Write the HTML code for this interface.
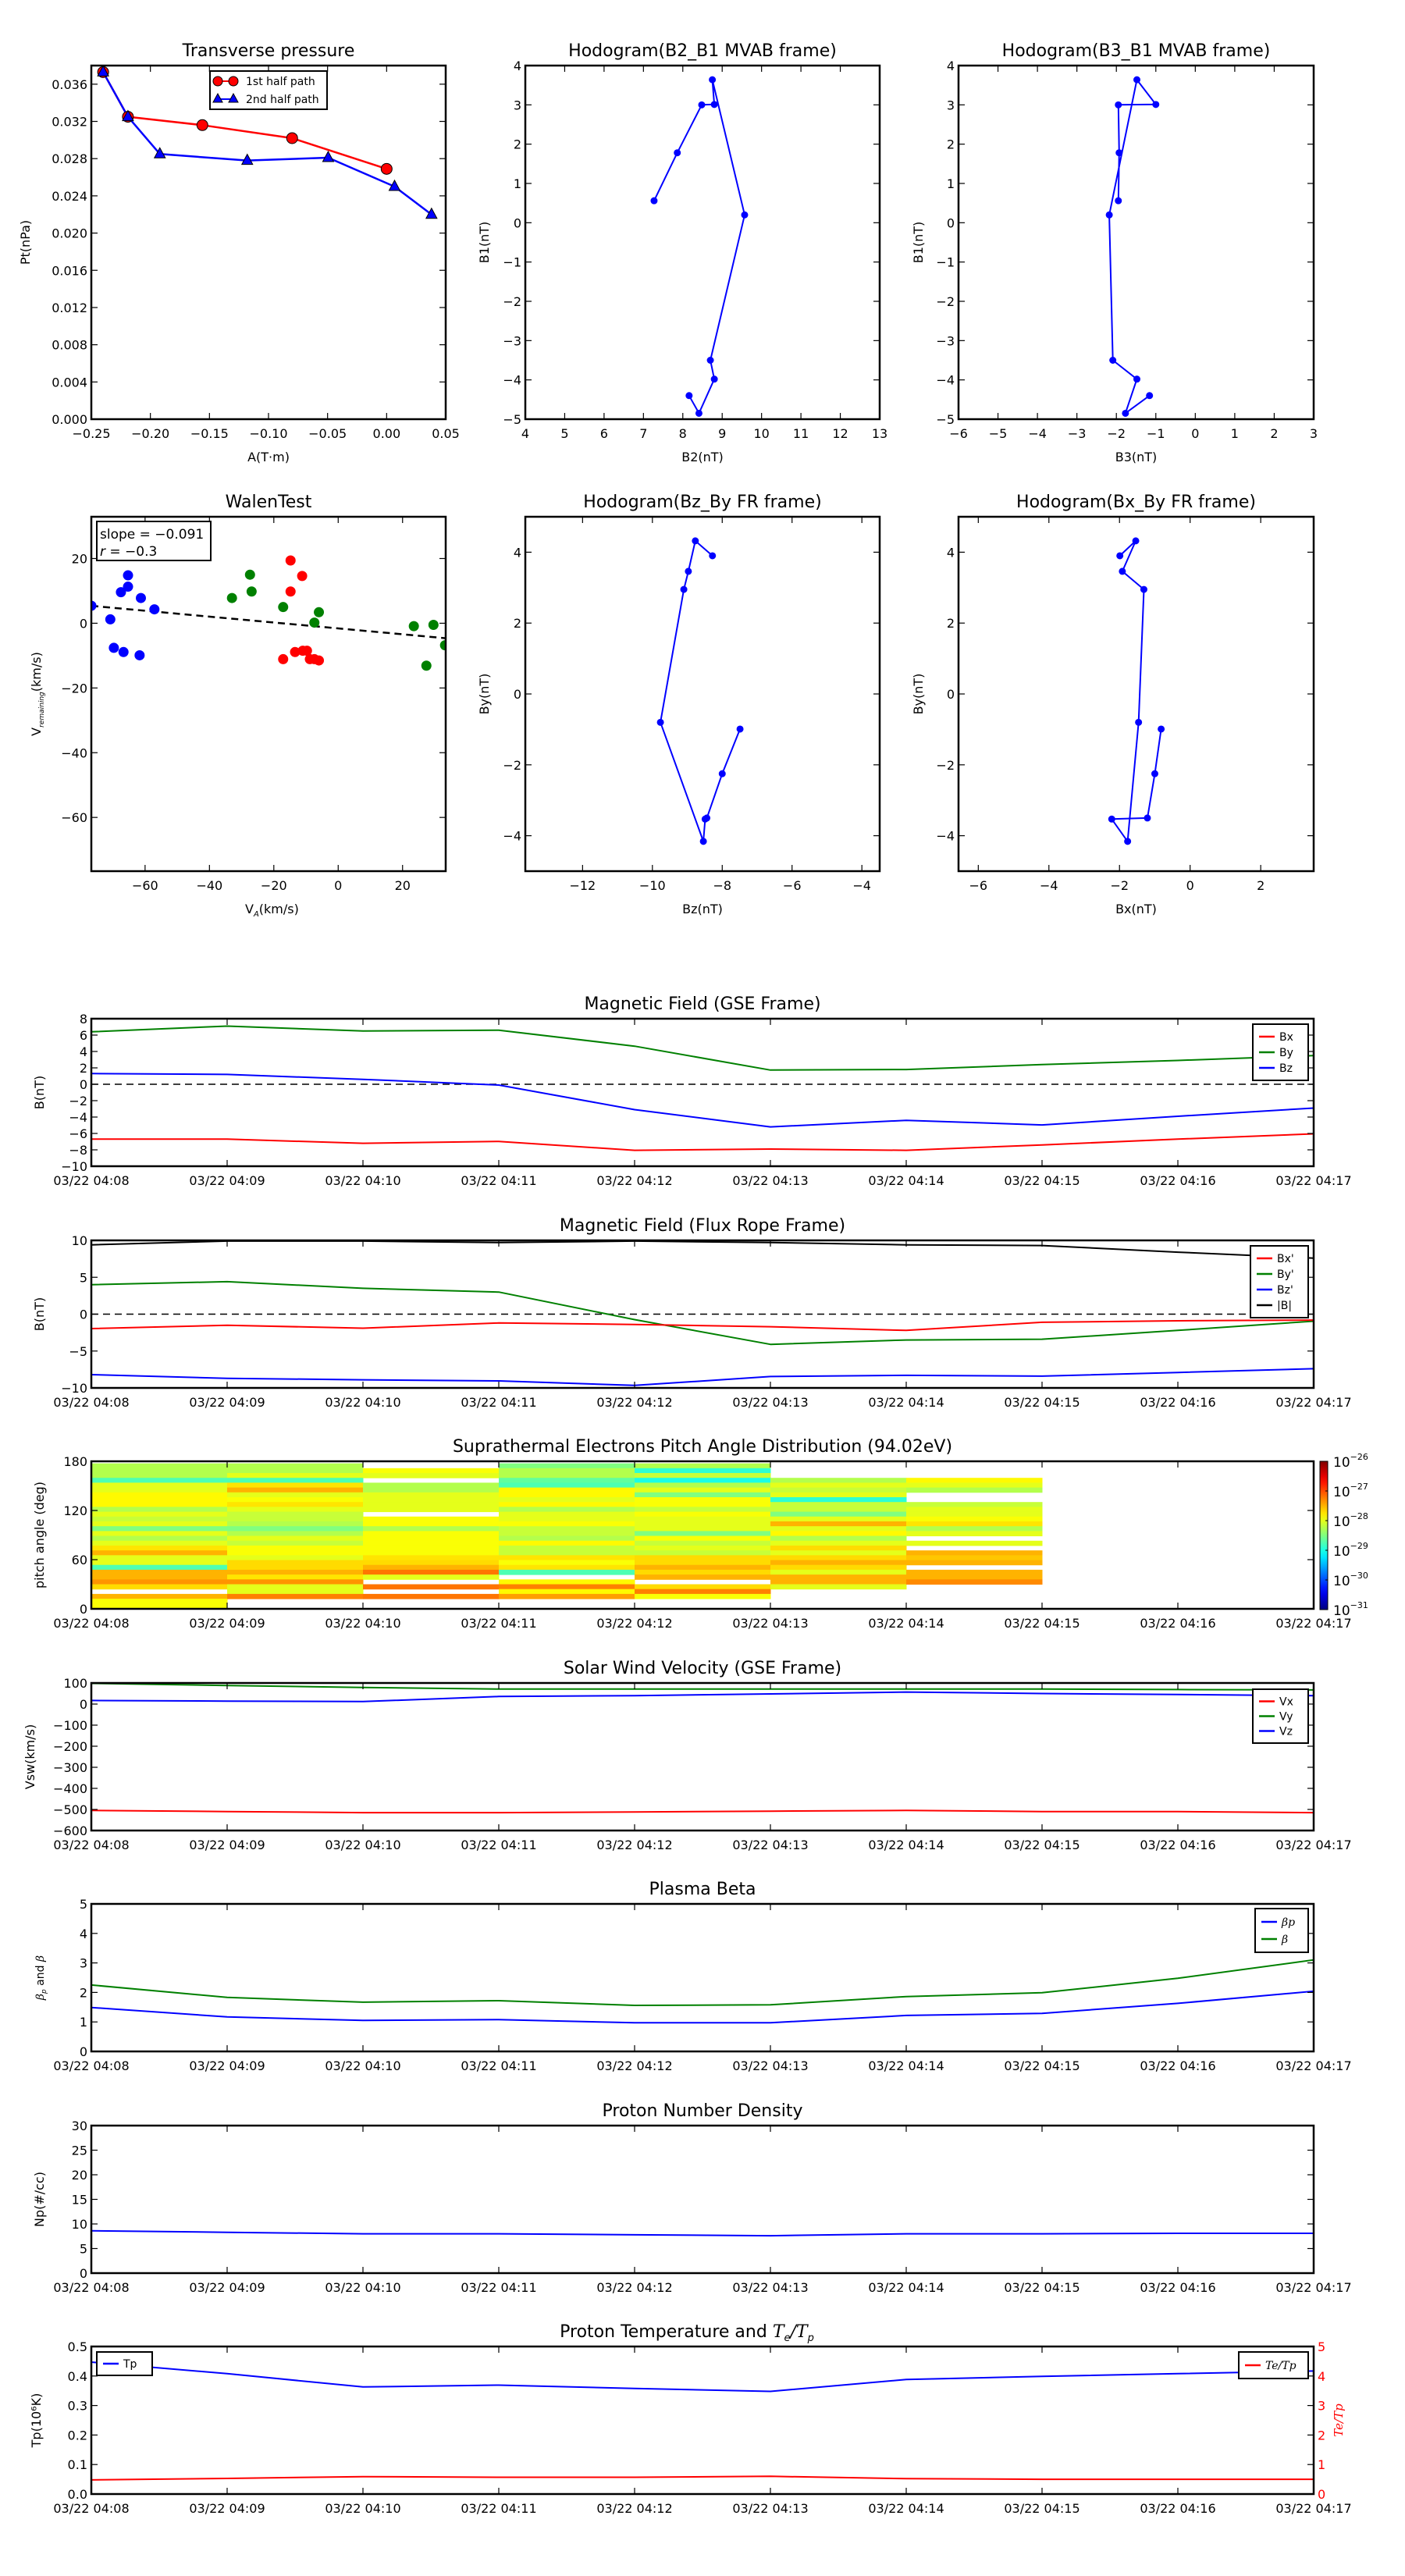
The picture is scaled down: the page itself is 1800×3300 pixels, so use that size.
<!DOCTYPE html>
<html><head><meta charset="utf-8"><style>
html,body{margin:0;padding:0;background:#fff}
svg{display:block;font-family:"DejaVu Sans","Liberation Sans",sans-serif}
</style></head><body>
<svg id="fig" width="1800" height="3300" viewBox="0 0 1800 3300" xmlns="http://www.w3.org/2000/svg"></svg>
<script>
// ---------- data ----------
const timeLabels=['03/22 04:08','03/22 04:09','03/22 04:10','03/22 04:11','03/22 04:12','03/22 04:13','03/22 04:14','03/22 04:15','03/22 04:16','03/22 04:17'];
const tMinutes=[0,1,2,3,4,5,6,7,8,9];
// transverse pressure
const ptA1=[-0.240,-0.219,-0.156,-0.080,0.000];
const ptP1=[0.0373,0.0325,0.0316,0.0302,0.0269];
const ptA2=[-0.240,-0.219,-0.192,-0.118,-0.0495,0.0067,0.038];
const ptP2=[0.0373,0.0325,0.0285,0.0278,0.0281,0.0250,0.0220];
// MVAB hodograms
const mvB1=[0.56,1.78,3.0,3.01,3.64,0.2,-3.5,-3.98,-4.85,-4.4];
const mvB2=[7.27,7.86,8.48,8.8,8.75,9.57,8.7,8.8,8.41,8.16];
const mvB3=[-1.95,-1.93,-1.95,-1.0,-1.48,-2.18,-2.09,-1.48,-1.77,-1.16];
// FR hodograms
const frBy=[3.9,4.32,3.46,2.95,-0.8,-4.16,-3.53,-3.5,-2.25,-0.99];
const frBz=[-8.28,-8.77,-8.97,-9.10,-9.77,-8.54,-8.49,-8.44,-8.0,-7.49];
const frBx=[-1.99,-1.54,-1.92,-1.31,-1.46,-1.77,-2.22,-1.21,-1.0,-0.82];
// Walen test
const walBlueX=[-76.7,-70.8,-69.7,-67.5,-66.7,-65.3,-65.3,-61.7,-61.3,-57.1];
const walBlueY=[5.4,1.2,-7.6,9.6,-8.9,11.3,14.8,-9.9,7.8,4.3];
const walGreenX=[-33.0,-27.4,-26.9,-17.1,-7.4,-6.0,23.5,27.4,29.6,33.2];
const walGreenY=[7.8,15.0,9.8,5.0,0.2,3.4,-0.9,-13.1,-0.5,-6.8];
const walRedX=[-17.1,-14.8,-14.8,-13.4,-11.2,-11.0,-9.7,-8.8,-7.4,-6.0];
const walRedY=[-11.1,19.4,9.8,-8.9,14.6,-8.5,-8.5,-11.1,-11.1,-11.5];
const walSlope=-0.091, walIntercept=-1.6;
// GSE field
const gseBx=[-6.7,-6.7,-7.2,-6.97,-8.06,-7.9,-8.06,-7.4,-6.7,-6.05];
const gseBy=[6.4,7.1,6.5,6.6,4.65,1.73,1.8,2.4,2.9,3.5];
const gseBz=[1.3,1.2,0.6,-0.1,-3.1,-5.2,-4.4,-4.96,-3.9,-2.9];
// flux rope frame
const frpBx=[-1.96,-1.5,-1.9,-1.2,-1.4,-1.7,-2.2,-1.1,-0.9,-0.8];
const frpBy=[4.0,4.4,3.5,3.0,-0.74,-4.1,-3.5,-3.4,-2.2,-0.95];
const frpBz=[-8.2,-8.7,-8.9,-9.05,-9.66,-8.45,-8.3,-8.4,-7.9,-7.4];
const frpB=[9.4,9.9,9.9,9.7,9.9,9.7,9.4,9.3,8.4,7.6];
// PAD (log10 flux), columns = minutes 04:08..04:14, rows top->bottom
const padCol0=[-28.25,-28.25,-28.25,-28.75,-28,-28,-27.85,-27.85,-27.85,-28.25,-28,-28.15,-28,-28.5,-28,-28.25,-28,-27.75,-27.5,-28,-28,-28.75,-27.5,-27.5,-27.35,-27.7,null,-27.5,-27.9,-27.9];
const padCol1=[-28.25,-28.25,-28,-28.75,-27.75,-27.5,-28,-27.9,-27.75,-28,-28.15,-28.15,-28.25,-28.5,-28.25,-28,-28.15,-27.9,-27.9,-28,-27.7,-27.7,-27.5,-27.75,-27.35,-28,-28,-27.25,null,null];
const padCol2=[null,-27.9,-28,null,-28.25,-28.25,-28,-28,-28,-28,null,-27.9,-27.9,-28.25,-27.9,-27.9,-27.9,-27.9,-27.9,-27.75,-27.7,-27.5,-27.2,-28,null,-27.2,null,-27.2,null,null];
const padCol3=[-28.5,-28.25,-28.25,-28.65,-28.75,-27.85,-27.85,-28,-27.85,-28.25,-28,-28,-27.9,-28.15,-28.15,-28.25,-27.85,-28.15,-28.15,-27.75,-27.9,-27.75,-28.75,null,-27.85,-27.25,-27.85,-27.4,null,null];
const padCol4=[-28.25,-28.9,-28.15,-29,-28.25,-28,-28.5,-27.9,-27.9,-28.15,-27.9,-28,-28,-28,-28.5,-27.9,-28.15,-28,-28.15,-27.7,-27.7,-27.5,-27.7,-27.5,null,-27.7,-27.25,-27.9,null,null];
const padCol5=[null,null,null,-28.25,-28,-28.15,-28,-28.9,-28.15,-28.15,-28.5,-28,-27.5,-28,-27.85,-28.25,-28,-27.7,-28,-27.7,-27.5,-27.7,-28,-27.5,-27.5,-28,null,null,null,null];
const padCol6=[null,null,null,-27.85,-28,-28.25,null,null,-28.15,-28,-28,-27.9,-27.75,-28.25,-28,null,-28,null,-27.5,-27.6,-27.5,null,-27.5,-27.5,-27.3,null,null,null,null,null];
const padCols=[padCol0,padCol1,padCol2,padCol3,padCol4,padCol5,padCol6];
// solar wind
const swVx=[-505,-510,-515,-515,-512,-508,-505,-510,-510,-515];
const swVy=[98,88,79,71,71,71,71,71,69,67];
const swVz=[17,14,12,36,40,48,57,50,45,40];
// plasma beta
const betaP=[1.49,1.17,1.05,1.08,0.97,0.97,1.22,1.29,1.63,2.04];
const betaT=[2.25,1.83,1.67,1.72,1.56,1.58,1.86,1.99,2.48,3.1];
// density
const npVals=[8.6,8.3,8.0,8.0,7.8,7.6,8.0,8.0,8.1,8.1];
// temperature
const tpVals=[0.447,0.408,0.363,0.369,0.358,0.348,0.388,0.399,0.408,0.417];
const teTpVals=[0.48,0.53,0.59,0.57,0.57,0.6,0.52,0.5,0.5,0.5];

// ---------- helpers ----------
const NS='http://www.w3.org/2000/svg';
const svg=document.getElementById('fig');
function el(tag,attrs,parent){const e=document.createElementNS(NS,tag);for(const k in attrs)e.setAttribute(k,attrs[k]);(parent||svg).appendChild(e);return e;}
function txt(s,x,y,size,anchor,parent,extra){const t=el('text',Object.assign({x:x,y:y,'font-size':size,'text-anchor':anchor||'middle',fill:'#000'},extra||{}),parent);t.textContent=s;return t;}
function fmtNeg(s){return String(s).replace('-','\u2212');}
function jet(t){t=Math.max(0,Math.min(1,t));const c=v=>Math.round(255*Math.max(0,Math.min(1,v)));return 'rgb('+c(1.5-Math.abs(4*t-3))+','+c(1.5-Math.abs(4*t-2))+','+c(1.5-Math.abs(4*t-1))+')';}

function makeAxes(name,x0,y0,w,h,xmin,xmax,ymin,ymax){
  const g=el('g',{});
  
  
  const ax={g,x0,y0,w,h,sx:v=>x0+(v-xmin)/(xmax-xmin)*w,sy:v=>y0+h-(v-ymin)/(ymax-ymin)*h};
  const clipId='clip-'+name;
  const cp=el('clipPath',{id:clipId},g);el('rect',{x:x0,y:y0,width:w,height:h},cp);
  ax.plot=el('g',{'clip-path':'url(#'+clipId+')'},g);
  
  
  return ax;
}
function frame(ax){const r=el('rect',{x:ax.x0,y:ax.y0,width:ax.w,height:ax.h,fill:'none',stroke:'#000','stroke-width':2.5},ax.g);
  
  }
function xticks(ax,vals,labels,size){
  const g=el('g',{},ax.g);
  
  
  vals.forEach((v,i)=>{const x=ax.sx(v);
    el('line',{x1:x,x2:x,y1:ax.y0+ax.h,y2:ax.y0+ax.h-8,stroke:'#000','stroke-width':1.2},g);
    el('line',{x1:x,x2:x,y1:ax.y0,y2:ax.y0+8,stroke:'#000','stroke-width':1.2},g);
    txt(labels[i],x,ax.y0+ax.h+24,size||16,'middle',g);});
}
function yticks(ax,vals,labels,size,right,color){
  const g=el('g',{},ax.g);
  
  
  vals.forEach((v,i)=>{const y=ax.sy(v);
    if(!right){
      el('line',{x1:ax.x0,x2:ax.x0+8,y1:y,y2:y,stroke:'#000','stroke-width':1.2},g);
      el('line',{x1:ax.x0+ax.w,x2:ax.x0+ax.w-8,y1:y,y2:y,stroke:'#000','stroke-width':1.2},g);
      txt(labels[i],ax.x0-5,y+6,size||16,'end',g);
    } else {
      txt(labels[i],ax.x0+ax.w+5,y+6,size||16,'start',g,{fill:color||'#000'});
    }});
}
function title(ax,s,name){const t=txt(s,ax.x0+ax.w/2,ax.y0-12,22,'middle',ax.g);
  
  return t;}
function xlabel(ax,s){const t=txt(s,ax.x0+ax.w/2,ax.y0+ax.h+54,16,'middle',ax.g);
  
  return t;}
function ylabel(ax,s,x){const t=txt(s,0,0,16,'middle',ax.g,{transform:'translate('+x+','+(ax.y0+ax.h/2)+') rotate(-90)'});
  
  return t;}
function line(ax,xs,ys,color,name,width,dash){
  const pts=xs.map((x,i)=>ax.sx(x).toFixed(1)+','+ax.sy(ys[i]).toFixed(1)).join(' ');
  const p=el('polyline',{points:pts,fill:'none',stroke:color,'stroke-width':width||2,'stroke-linejoin':'round'},ax.plot);
  if(dash)p.setAttribute('stroke-dasharray',dash);
  
  
  return p;
}
function dots(ax,xs,ys,color,name,r,stroke){
  xs.forEach((x,i)=>{const c=el('circle',{cx:ax.sx(x),cy:ax.sy(ys[i]),r:r||4,fill:color,stroke:stroke||color,'stroke-width':1},ax.plot);
    
    });
}
function tris(ax,xs,ys,color,name){
  xs.forEach((x,i)=>{const cx=ax.sx(x),cy=ax.sy(ys[i]);
    const p=el('polygon',{points:(cx)+','+(cy-8)+' '+(cx-7)+','+(cy+5)+' '+(cx+7)+','+(cy+5),fill:color,stroke:'#000','stroke-width':1},ax.g);
    
    });
}
function legend(ax,x,y,w,entries,rowH,name){
  const g=el('g',{},ax.g);
  
  
  el('rect',{x:x,y:y,width:w,height:entries.length*rowH+12,fill:'#fff',stroke:'#000','stroke-width':2},g);
  entries.forEach((e,i)=>{const yy=y+6+rowH*(i+0.5);
    const ln=el('line',{x1:x+8,x2:x+28,y1:yy,y2:yy,stroke:e.c,'stroke-width':2.5},g);
    
    
    const t=txt(e.t,x+34,yy+5,14,'start',g,e.italic?{'font-style':'italic','font-family':'DejaVu Serif, serif'}:{});
    
    });
  return g;
}
const timeTickLabels=timeLabels;
function timeAxes(name,y0,ymin,ymax){return makeAxes(name,117,y0,1566,189,0,9,ymin,ymax);}
function range(a,b,s){const r=[];for(let v=a;v<=b+1e-9;v+=s)r.push(+v.toFixed(6));return r;}

// ---------- Transverse pressure ----------
{
  const ax=makeAxes('transverse-pressure-chart',117,84,454,453,-0.25,0.05,0,0.038);
  line(ax,ptA1,ptP1,'#ff0000','first-half-path-line',2.5);
  line(ax,ptA2,ptP2,'#0000ff','second-half-path-line',2.5);
  dots(ax,ptA1,ptP1,'#ff0000','first-half-point',7,'#000');
  tris(ax,ptA2,ptP2,'#0000ff','second-half-point');
  const xt=range(-0.25,0.05,0.05);xticks(ax,xt,xt.map(v=>fmtNeg(v.toFixed(2))));
  const yt=range(0,0.036,0.004);yticks(ax,yt,yt.map(v=>v.toFixed(3)));
  frame(ax);title(ax,'Transverse pressure','transverse-pressure-title');
  xlabel(ax,'A(T\u00b7m)');ylabel(ax,'Pt(nPa)',38);
  const lg=el('g',{},ax.g);
  
  
  el('rect',{x:269,y:91,width:150,height:49,fill:'#fff',stroke:'#000','stroke-width':2},lg);
  el('line',{x1:279,x2:299,y1:104,y2:104,stroke:'#ff0000','stroke-width':2},lg);
  el('circle',{cx:279,cy:104,r:6,fill:'#f00',stroke:'#000'},lg);el('circle',{cx:299,cy:104,r:6,fill:'#f00',stroke:'#000'},lg);
  el('line',{x1:279,x2:299,y1:127,y2:127,stroke:'#0000ff','stroke-width':2},lg);
  el('polygon',{points:'279,120 273,131 285,131',fill:'#00f',stroke:'#000'},lg);el('polygon',{points:'299,120 293,131 305,131',fill:'#00f',stroke:'#000'},lg);
  const l1=txt('1st half path',315,109,14,'start',lg);
  
  
  const l2=txt('2nd half path',315,132,14,'start',lg);
  
  
}
// ---------- Hodogram B2_B1 ----------
{
  const ax=makeAxes('hodogram-b2-b1-chart',673,84,454,453,4,13,-5,4);
  line(ax,mvB2,mvB1,'#0000ff','b2-b1-path',2);dots(ax,mvB2,mvB1,'#0000ff','b2-b1-point',4);
  const xt=range(4,13,1);xticks(ax,xt,xt.map(v=>fmtNeg(v)));
  const yt=range(-5,4,1);yticks(ax,yt,yt.map(v=>fmtNeg(v)));
  frame(ax);title(ax,'Hodogram(B2_B1 MVAB frame)');xlabel(ax,'B2(nT)');ylabel(ax,'B1(nT)',626);
}
// ---------- Hodogram B3_B1 ----------
{
  const ax=makeAxes('hodogram-b3-b1-chart',1228,84,455,453,-6,3,-5,4);
  line(ax,mvB3,mvB1,'#0000ff','b3-b1-path',2);dots(ax,mvB3,mvB1,'#0000ff','b3-b1-point',4);
  const xt=range(-6,3,1);xticks(ax,xt,xt.map(v=>fmtNeg(v)));
  const yt=range(-5,4,1);yticks(ax,yt,yt.map(v=>fmtNeg(v)));
  frame(ax);title(ax,'Hodogram(B3_B1 MVAB frame)');xlabel(ax,'B3(nT)');ylabel(ax,'B1(nT)',1182);
}
// ---------- Walen test ----------
{
  const ax=makeAxes('walen-test-chart',117,662,454,454,-76.7,33.4,-76.6,32.9);
  const xl=[-76.7,33.4];
  line(ax,xl,xl.map(x=>walSlope*x+walIntercept),'#000','walen-fit-line',2.5,'9,6');
  dots(ax,walBlueX,walBlueY,'#0000ff','walen-point-blue',6);
  dots(ax,walGreenX,walGreenY,'#008000','walen-point-green',6);
  dots(ax,walRedX,walRedY,'#ff0000','walen-point-red',6);
  const xt=[-60,-40,-20,0,20];xticks(ax,xt,xt.map(v=>fmtNeg(v)));
  const yt=[-60,-40,-20,0,20];yticks(ax,yt,yt.map(v=>fmtNeg(v)));
  frame(ax);title(ax,'WalenTest','walen-test-title');
  const xlab=txt('V',ax.x0+ax.w/2-30,ax.y0+ax.h+54,16,'start',ax.g);
  
  
  const s1=el('tspan',{'font-size':10,dy:4,'font-style':'italic'},xlab);s1.textContent='A';
  const s2=el('tspan',{dy:-4},xlab);s2.textContent='(km/s)';
  const yl=txt('V',0,0,16,'middle',ax.g,{transform:'translate(52,'+(ax.y0+ax.h/2)+') rotate(-90)'});
  
  
  const s3=el('tspan',{'font-size':9,dy:4,'font-style':'italic'},yl);s3.textContent='remaining';
  const s4=el('tspan',{dy:-4},yl);s4.textContent='(km/s)';
  const box=el('g',{},ax.g);
  
  
  el('rect',{x:124,y:668,width:146,height:50,fill:'#fff',stroke:'#000','stroke-width':2},box);
  txt('slope = \u22120.091',128,690,17,'start',box);
  const rt=txt('',128,712,17,'start',box);
  const ri=el('tspan',{'font-style':'italic'},rt);ri.textContent='r';
  const rr=el('tspan',{},rt);rr.textContent=' = \u22120.3';
}
// ---------- Hodogram Bz_By ----------
{
  const ax=makeAxes('hodogram-bz-by-chart',673,662,454,454,-13.64,-3.49,-5,5);
  line(ax,frBz,frBy,'#0000ff','bz-by-path',2);dots(ax,frBz,frBy,'#0000ff','bz-by-point',4);
  const xt=[-12,-10,-8,-6,-4];xticks(ax,xt,xt.map(v=>fmtNeg(v)));
  const yt=[-4,-2,0,2,4];yticks(ax,yt,yt.map(v=>fmtNeg(v)));
  frame(ax);title(ax,'Hodogram(Bz_By FR frame)');xlabel(ax,'Bz(nT)');ylabel(ax,'By(nT)',626);
}
// ---------- Hodogram Bx_By ----------
{
  const ax=makeAxes('hodogram-bx-by-chart',1228,662,455,454,-6.56,3.5,-5,5);
  line(ax,frBx,frBy,'#0000ff','bx-by-path',2);dots(ax,frBx,frBy,'#0000ff','bx-by-point',4);
  const xt=[-6,-4,-2,0,2];xticks(ax,xt,xt.map(v=>fmtNeg(v)));
  const yt=[-4,-2,0,2,4];yticks(ax,yt,yt.map(v=>fmtNeg(v)));
  frame(ax);title(ax,'Hodogram(Bx_By FR frame)');xlabel(ax,'Bx(nT)');ylabel(ax,'By(nT)',1182);
}
// ---------- GSE field ----------
{
  const ax=timeAxes('magnetic-field-gse-chart',1305,-10,8);
  line(ax,[0,9],[0,0],'#000','zero-line',1.5,'9,6');
  line(ax,tMinutes,gseBy,'#008000','by-line');line(ax,tMinutes,gseBz,'#0000ff','bz-line');line(ax,tMinutes,gseBx,'#ff0000','bx-line');
  xticks(ax,tMinutes,timeTickLabels);
  const yt=range(-10,8,2);yticks(ax,yt,yt.map(v=>fmtNeg(v)));
  frame(ax);title(ax,'Magnetic Field (GSE Frame)');ylabel(ax,'B(nT)',56);
  legend(ax,1605,1312,71,[{t:'Bx',c:'#f00'},{t:'By',c:'#008000'},{t:'Bz',c:'#00f'}],20,'gse-legend');
}
// ---------- Flux rope field ----------
{
  const ax=timeAxes('magnetic-field-flux-rope-chart',1589,-10,10);
  line(ax,[0,9],[0,0],'#000','zero-line',1.5,'9,6');
  line(ax,tMinutes,frpB,'#000','b-total-line');line(ax,tMinutes,frpBy,'#008000','by-prime-line');
  line(ax,tMinutes,frpBz,'#0000ff','bz-prime-line');line(ax,tMinutes,frpBx,'#ff0000','bx-prime-line');
  xticks(ax,tMinutes,timeTickLabels);
  const yt=[-10,-5,0,5,10];yticks(ax,yt,yt.map(v=>fmtNeg(v)));
  frame(ax);title(ax,'Magnetic Field (Flux Rope Frame)');ylabel(ax,'B(nT)',56);
  legend(ax,1602,1596,74,[{t:"Bx'",c:'#f00'},{t:"By'",c:'#008000'},{t:"Bz'",c:'#00f'},{t:'|B|',c:'#000'}],20,'flux-rope-legend');
}
// ---------- PAD ----------
{
  const ax=timeAxes('pitch-angle-distribution-chart',1872,0,180);
  const binTop=177.5, binW=5.9;
  padCols.forEach((col,ci)=>{col.forEach((v,ri)=>{if(v===null)return;
    const top=binTop-ri*binW, bot=top-binW;
    const r=el('rect',{x:ax.sx(tMinutes[ci]),y:ax.sy(top),width:ax.sx(tMinutes[ci]+1)-ax.sx(tMinutes[ci])+0.5,height:ax.sy(bot)-ax.sy(top)+0.5,fill:jet((v+31)/5)},ax.plot);
    
    });});
  xticks(ax,tMinutes,timeTickLabels);
  yticks(ax,[0,60,120,180],['0','60','120','180']);
  frame(ax);title(ax,'Suprathermal Electrons Pitch Angle Distribution (94.02eV)');ylabel(ax,'pitch angle (deg)',56);
  const cb=el('g',{});
  
  
  const grad=el('linearGradient',{id:'jetg',x1:0,y1:1,x2:0,y2:0},cb);
  for(let i=0;i<=20;i++)el('stop',{offset:(i/20),'stop-color':jet(i/20)},grad);
  el('rect',{x:1691,y:1872,width:10,height:190,fill:'url(#jetg)',stroke:'#000','stroke-width':1},cb);
  [-31,-30,-29,-28,-27,-26].forEach((e,i)=>{const y=2062-i*38;
    el('line',{x1:1698,x2:1701,y1:y,y2:y,stroke:'#000'},cb);
    const t=txt('10',1708,y+7,17,'start',cb);
    const sp=el('tspan',{'font-size':11,dy:-9},t);sp.textContent=fmtNeg(e);});
}
// ---------- Solar wind ----------
{
  const ax=timeAxes('solar-wind-velocity-chart',2156,-600,100);
  line(ax,tMinutes,swVx,'#ff0000','vx-line');line(ax,tMinutes,swVy,'#008000','vy-line');line(ax,tMinutes,swVz,'#0000ff','vz-line');
  xticks(ax,tMinutes,timeTickLabels);
  const yt=range(-600,100,100);yticks(ax,yt,yt.map(v=>fmtNeg(v)));
  frame(ax);title(ax,'Solar Wind Velocity (GSE Frame)');ylabel(ax,'Vsw(km/s)',44);
  legend(ax,1605,2164,71,[{t:'Vx',c:'#f00'},{t:'Vy',c:'#008000'},{t:'Vz',c:'#00f'}],19,'solar-wind-legend');
}
// ---------- Plasma beta ----------
{
  const ax=timeAxes('plasma-beta-chart',2439,0,5);
  line(ax,tMinutes,betaP,'#0000ff','beta-p-line');line(ax,tMinutes,betaT,'#008000','beta-line');
  xticks(ax,tMinutes,timeTickLabels);
  const yt=range(0,5,1);yticks(ax,yt,yt.map(v=>String(v)));
  frame(ax);title(ax,'Plasma Beta');
  const yl=txt('',0,0,14,'middle',ax.g,{transform:'translate(56,'+(ax.y0+ax.h/2)+') rotate(-90)'});
  
  
  const a=el('tspan',{'font-style':'italic','font-family':'DejaVu Serif, serif'},yl);a.textContent='\u03b2';
  const b=el('tspan',{'font-size':9,dy:3,'font-style':'italic'},yl);b.textContent='p';
  const c=el('tspan',{dy:-3},yl);c.textContent=' and ';
  const d=el('tspan',{'font-style':'italic','font-family':'DejaVu Serif, serif'},yl);d.textContent='\u03b2';
  legend(ax,1608,2445,68,[{t:'\u03b2p',c:'#00f',italic:true},{t:'\u03b2',c:'#008000',italic:true}],22,'beta-legend');
}
// ---------- Density ----------
{
  const ax=timeAxes('proton-density-chart',2723,0,30);
  line(ax,tMinutes,npVals,'#0000ff','np-line');
  xticks(ax,tMinutes,timeTickLabels);
  const yt=range(0,30,5);yticks(ax,yt,yt.map(v=>String(v)));
  frame(ax);title(ax,'Proton Number Density');ylabel(ax,'Np(#/cc)',56);
}
// ---------- Temperature ----------
{
  const ax=timeAxes('proton-temperature-chart',3006,0,0.5);
  line(ax,tMinutes,tpVals,'#0000ff','tp-line');
  const teScale=v=>v/10; // right axis 0..5 mapped onto 0..0.5
  line(ax,tMinutes,teTpVals.map(teScale),'#ff0000','te-tp-line');
  xticks(ax,tMinutes,timeTickLabels);
  const yt=range(0,0.5,0.1);yticks(ax,yt,yt.map(v=>v.toFixed(1)));
  const rt=[0,1,2,3,4,5];yticks(ax,rt.map(teScale),rt.map(String),16,true,'#ff0000');
  frame(ax);
  const tt=txt('Proton Temperature and ',ax.x0+ax.w/2-20,ax.y0-12,22,'middle',ax.g);
  
  
  const m1=el('tspan',{'font-style':'italic','font-family':'DejaVu Serif, serif'},tt);m1.textContent='T';
  const m2=el('tspan',{'font-size':13,dy:5,'font-style':'italic'},tt);m2.textContent='e';
  const m3=el('tspan',{dy:-5,'font-family':'DejaVu Serif, serif','font-style':'italic'},tt);m3.textContent='/T';
  const m4=el('tspan',{'font-size':13,dy:5,'font-style':'italic'},tt);m4.textContent='p';
  const yl=txt('Tp(10\u2076K)',0,0,16,'middle',ax.g,{transform:'translate(52,'+(ax.y0+ax.h/2)+') rotate(-90)'});
  
  
  const yr=txt('Te/Tp',0,0,15,'middle',ax.g,{transform:'translate(1720,'+(ax.y0+ax.h/2)+') rotate(-90)',fill:'#ff0000','font-style':'italic','font-family':'DejaVu Serif, serif'});
  
  
  legend(ax,124,3013,71,[{t:'Tp',c:'#00f'}],18,'tp-legend');
  legend(ax,1587,3013,89,[{t:'Te/Tp',c:'#f00',italic:true}],22,'te-tp-legend');
}
</script>
</body></html>
